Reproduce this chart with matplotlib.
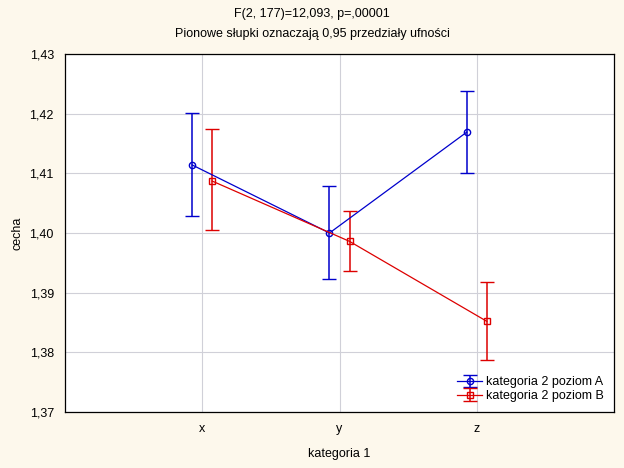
import matplotlib
matplotlib.use("Agg")
import matplotlib.pyplot as plt
from matplotlib.ticker import FuncFormatter
import numpy as np

plt.rcParams["font.family"] = ["Liberation Sans", "DejaVu Sans"]

# dane
categories = ["x", "y", "z"]
mean_a = [1.4114, 1.4000, 1.4169]
low_a = [1.4029, 1.3923, 1.4101]
high_a = [1.4201, 1.4078, 1.4238]
mean_b = [1.4087, 1.3986, 1.3852]
low_b = [1.4005, 1.3936, 1.3787]
high_b = [1.4174, 1.4037, 1.3918]
labels = ["kategoria 2 poziom A", "kategoria 2 poziom B"]

BG = "#FDF8EC"
BLUE = "#0000CC"
RED = "#DD0000"

fig = plt.figure(figsize=(6.24, 4.68), dpi=100)
fig.set_facecolor(BG)
ax = fig.add_axes([65 / 624, 1 - 412 / 468, 549 / 624, 358 / 468])
ax.set_facecolor("white")

x = np.arange(1, len(categories) + 1)
off = 0.073

for means, lo, hi, col, mk, lab, dx in [
    (mean_a, low_a, high_a, BLUE, "o", labels[0], -off),
    (mean_b, low_b, high_b, RED, "s", labels[1], off),
]:
    means = np.array(means)
    err = [means - np.array(lo), np.array(hi) - means]
    ax.errorbar(x + dx, means, yerr=err, color=col, ecolor=col,
                elinewidth=1.1, capsize=5.2, capthick=1.1,
                linewidth=0.9, marker=mk, markersize=4.5,
                markerfacecolor="none", markeredgecolor=col,
                markeredgewidth=1.0, label=lab, zorder=3)

ax.set_xlim(0, 4)
ax.set_ylim(1.37, 1.43)
ax.set_xticks(x)
ax.set_xticklabels(categories)
ax.set_yticks(np.arange(1.37, 1.4301, 0.01))
ax.yaxis.set_major_formatter(FuncFormatter(lambda v, p: f"{v:.2f}".replace(".", ",")))
ax.grid(True, color="#D0D0D8", linewidth=0.8)
ax.set_axisbelow(True)
ax.tick_params(axis="both", length=0, labelsize=9, pad=8, colors="#000000")
for s in ax.spines.values():
    s.set_color("black")
    s.set_linewidth(0.9)

ax.set_xlabel("kategoria 1", fontsize=9, labelpad=9)
ax.set_ylabel("cecha", fontsize=9, labelpad=4)

fig.text(0.5, 1 - 14 / 468, "F(2, 177)=12,093, p=,00001", ha="center", va="center", fontsize=9)
fig.text(0.5, 1 - 34 / 468, "Pionowe słupki oznaczają 0,95 przedziały ufności", ha="center", va="center", fontsize=9)

leg = ax.legend(loc="lower right", frameon=False, fontsize=9, handlelength=2.0,
                handletextpad=0.3, labelspacing=0.15, borderaxespad=0.4)

fig.savefig("out.png", dpi=100, facecolor=fig.get_facecolor())
